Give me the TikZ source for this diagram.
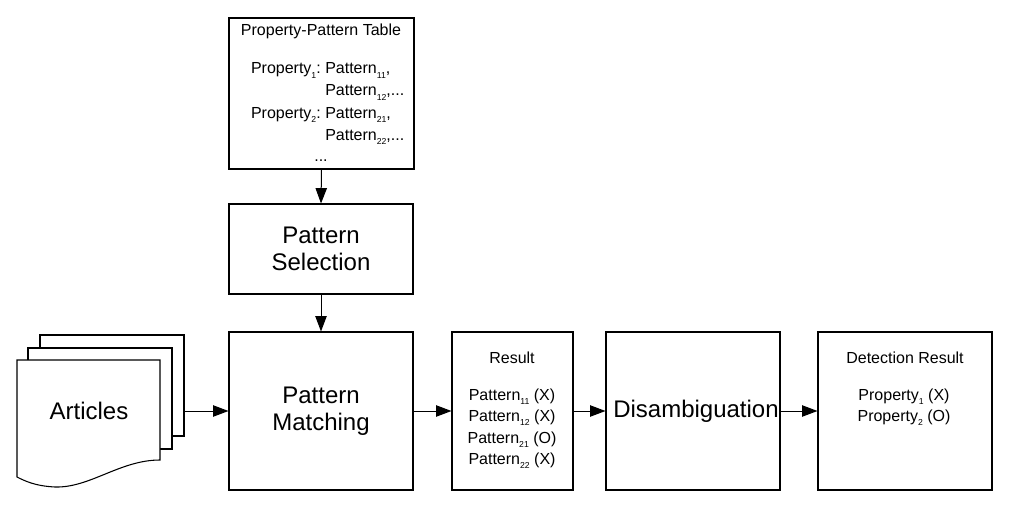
\documentclass[tikz,border=0pt]{standalone}
\usepackage{fontspec}
\setmainfont{Liberation Sans}
\usetikzlibrary{arrows.meta}
\newcommand\sbs[1]{\raisebox{-0.5ex}{\fontsize{6.5}{6.5}\selectfont #1}}
\begin{document}
\begin{tikzpicture}[x=0.75pt,y=-0.75pt,
  box/.style={draw=black, line width=0.8pt, fill=white, inner sep=0pt},
  big/.style={font=\fontsize{18}{20.25}\selectfont, align=center, inner sep=0pt},
  small/.style={font=\fontsize{12}{14}\selectfont, inner sep=0pt},
  arr/.style={-{Triangle[length=11.5pt,width=8.5pt]}, line width=0.75pt},
  page/.style={draw=black, line width=0.8pt, fill=white}]
\useasboundingbox (0,0) rectangle (1010,517);
% boxes
\node[box, minimum width=138.75pt, minimum height=113.25pt] (table) at (321.5,93.5) {};
\node[box, minimum width=138pt, minimum height=67.5pt] (ps) at (321,249) {};
\node[box, minimum width=138pt, minimum height=118.5pt] (pm) at (321,411) {};
\node[box, minimum width=90.75pt, minimum height=118.5pt] (res) at (512.5,411) {};
\node[box, minimum width=130.5pt, minimum height=118.5pt] (dis) at (693,411) {};
\node[box, minimum width=130.5pt, minimum height=118.5pt] (det) at (905,411) {};
% table text
\node[small, anchor=base] (tt) at (321,36) {Property-Pattern Table};
\node[small, anchor=base east] (p1) at (321,74) {Property\sbs{1}:};
\node[small, anchor=base west] (p11) at (325,74) {Pattern\sbs{11},};
\node[small, anchor=base west] (p12) at (325,96) {Pattern\sbs{12},...};
\node[small, anchor=base east] (p2) at (321,118) {Property\sbs{2}:};
\node[small, anchor=base west] (p21) at (325,118) {Pattern\sbs{21},};
\node[small, anchor=base west] (p22) at (325,140) {Pattern\sbs{22},...};
\node[small, anchor=base] (pdots) at (321,161) {...};
% big labels
\node[big] (pst) at (ps.center) {Pattern\\Selection};
\node[big] (pmt) at (pm.center) {Pattern\\Matching};
\node[big] (dist) at (696,411) {Disambiguation};
% result text
\node[small, anchor=base] (rt) at (512,363) {Result};
\node[small, anchor=base] (r1) at (512,400) {Pattern\sbs{11} (X)};
\node[small, anchor=base] (r2) at (512,421.5) {Pattern\sbs{12} (X)};
\node[small, anchor=base] (r3) at (512,443) {Pattern\sbs{21} (O)};
\node[small, anchor=base] (r4) at (512,464.5) {Pattern\sbs{22} (X)};
% detection text
\node[small, anchor=base] (dt) at (905,363) {Detection Result};
\node[small, anchor=base] (d1) at (904,400) {Property\sbs{1} (X)};
\node[small, anchor=base] (d2) at (904,421.5) {Property\sbs{2} (O)};
% articles
\draw[page] (40,335) rectangle (184,436);
\draw[page] (28,348) rectangle (172,449);
\draw[page] (17,477) -- (17,360) -- (160,360) -- (160,460)
  .. controls (120,460) and (90,488) .. (55,487)
  .. controls (35,486) and (25,481) .. (17,477) -- cycle;
\node[big] (art) at (89,411) {Articles};
\coordinate (artout) at (184,411);
% arrows
\draw[arr] (table.south) -- (ps.north);
\draw[arr] (ps.south) -- (pm.north);
\draw[arr] (artout) -- (pm.west);
\draw[arr] (pm.east) -- (res.west);
\draw[arr] (res.east) -- (dis.west);
\draw[arr] (dis.east) -- (det.west);
\end{tikzpicture}
\end{document}
